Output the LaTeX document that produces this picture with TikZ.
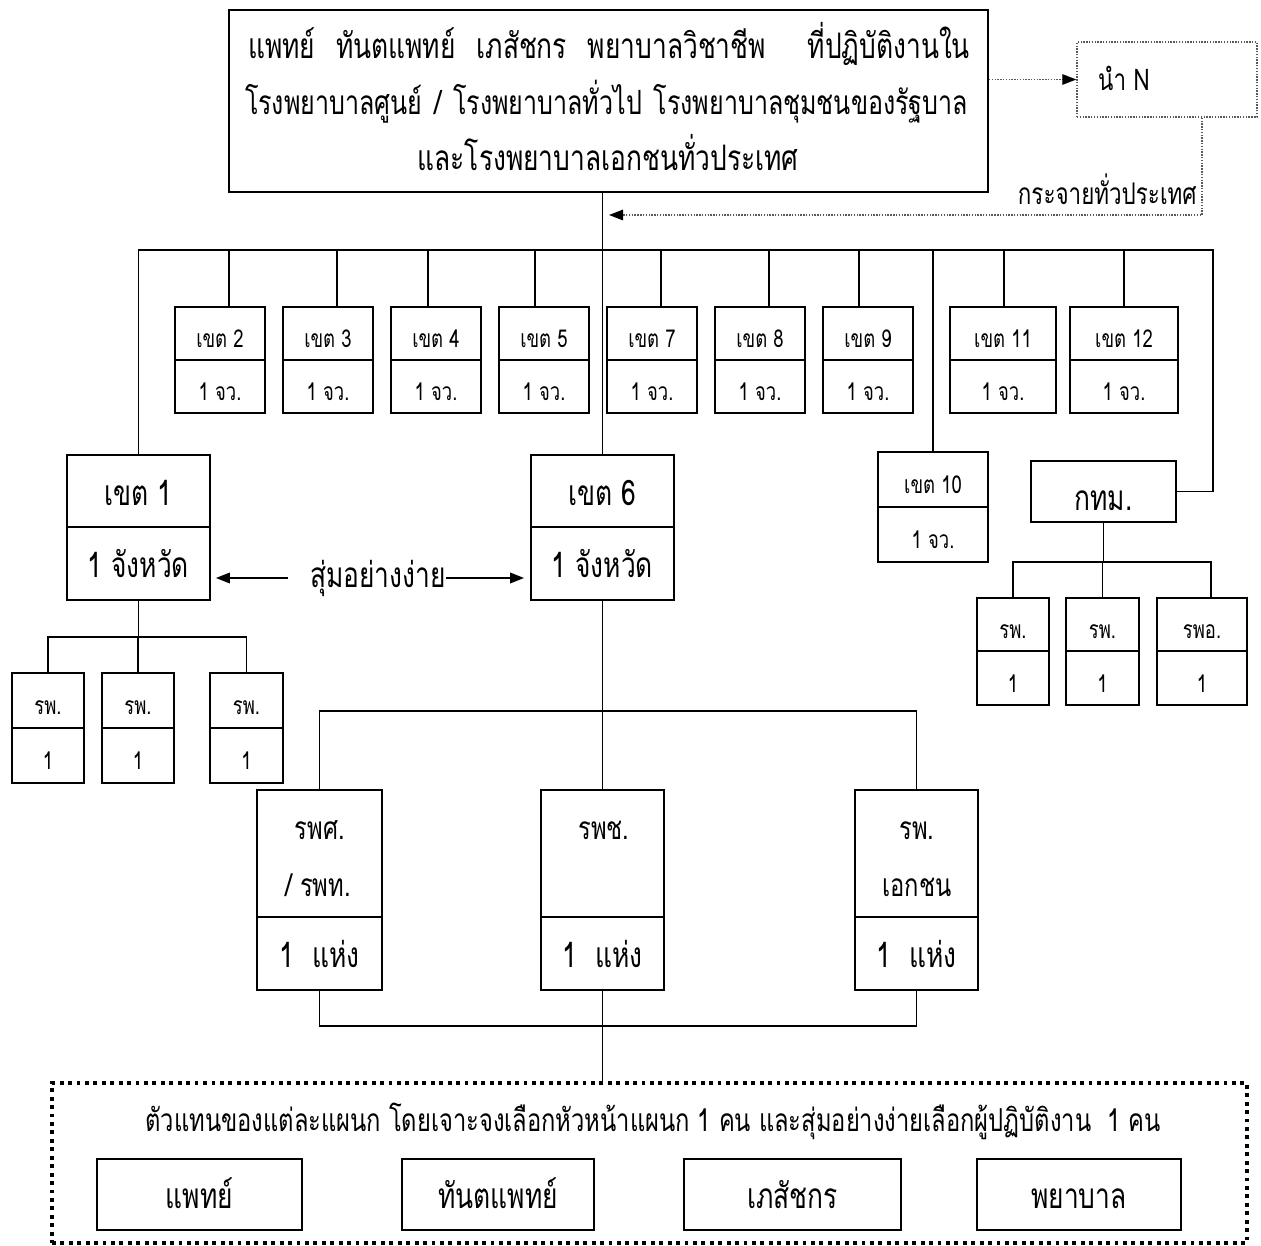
\documentclass[tikz,border=0pt]{standalone}
\usepackage{fontspec}
\setmainfont{Loma}[Script=Thai, FakeStretch=0.75]
\usetikzlibrary{arrows.meta, calc}
\newcommand\fsL{\fontsize{20}{24}\selectfont}
\newcommand\fsM{\fontsize{17}{20}\selectfont}
\newcommand\fsS{\fontsize{14}{17}\selectfont}
\newcommand\fsB{\fontsize{18}{21}\selectfont}
\begin{document}
\begin{tikzpicture}[x=0.02cm, y=-0.02cm,
  ln/.style={line width=1pt},
  cell/.style={draw, line width=1pt, inner sep=0pt},
  bx/.style 2 args={minimum width=#1*0.02cm, minimum height=#2*0.02cm},
  fL/.style={font=\fsL, inner sep=0pt, text height=10.4pt, text depth=0pt},
  fM/.style={font=\fsM, inner sep=0pt, text height=8.8pt, text depth=0pt},
  fB/.style={font=\fsB, inner sep=0pt, text height=9.3pt, text depth=0pt},
  cL/.style={font=\fsL, text height=16pt, text depth=0pt},
  cS/.style={font=\fsS, text height=16.4pt, text depth=0pt},
  tip/.style={-{Triangle[length=8pt,width=6pt,color=black]}},
  dotline/.style={draw=black!65, line width=0.8pt, dash pattern=on 0.8pt off 0.8pt},
  bigdot/.style={draw=black, line width=2.2pt, dash pattern=on 2.2pt off 2.6pt}]
\useasboundingbox (0,0) rectangle (1261,1246);

% top box
\node[draw, ln, bx={759}{182}] (top) at (608.5,101) {};
\node[fL] (l1) at (609,49) {\hbox to 14.44cm{แพทย์\hfill ทันตแพทย์\hfill เภสัชกร\hfill พยาบาลวิชาชีพ\hfill\hfill ที่ปฏิบัติงานใน}};
\node[fL, font=\fontsize{19}{23}\selectfont, text height=9.9pt] (l2) at (606.5,106) {\hbox to 14.46cm{โรงพยาบาลศูนย์\kern3pt\hfill/\kern3pt\hfill โรงพยาบาลทั่วไป\kern3pt\hfill โรงพยาบาลชุมชนของรัฐบาล}};
\node[fL] (l3) at (608,161) {และโรงพยาบาลเอกชนทั่วประเทศ};

% N box
\node[dotline, bx={180}{75}] (nbox) at (1167,79.5) {};
\node[fM] (ntext) at (1124,83) {นำ N};
\draw[dotline, tip] (top.east |- nbox.west) -- (nbox.west);
\coordinate (dc) at (1202,215);
\coordinate (da) at (609,215);
\draw[dotline, tip] (nbox.south -| dc) -- (dc) -- (da);
\node[fM, anchor=east] (spread) at (1197,197) {กระจายทั่วประเทศ};

% row of zones
\foreach \n/\x/\w/\t in {k2/220/90/2, k3/328/90/3, k4/436/90/4, k5/544/90/5, k7/652/90/7, k8/760/90/8, k9/868/90/9, k11/1003/106/11, k12/1124/108/12}{
  \node[cell, cS, bx={\w}{53}] (\n) at (\x,333.5) {เขต \t};
  \node[cell, cS, bx={\w}{53}] (\n b) at (\x,386.5) {1 จว.};
}
\coordinate (busR) at (1213,250);
\foreach \n/\o in {k2/9, k3/9, k4/-8, k5/-9, k7/9, k8/9, k9/-9, k11/1, k12/0}
  \draw[ln] ([xshift=\o*0.02cm]\n.north) coordinate (tmp) -- (tmp |- busR);

% zone 1 and 6
\node[cell, cL, bx={143}{72}] (k1) at (138.5,491) {เขต 1};
\node[cell, cL, bx={143}{73}] (k1b) at (138.5,563.5) {1 จังหวัด};
\node[cell, cL, bx={143}{72}] (k6) at (602.5,491) {เขต 6};
\node[cell, cL, bx={143}{73}] (k6b) at (602.5,563.5) {1 จังหวัด};

% zone 10 and Bangkok
\node[cell, cS, bx={110}{55}] (k10) at (933,479.5) {เขต 10};
\node[cell, cS, bx={110}{55}] (k10b) at (933,534.5) {1 จว.};
\node[cell, font=\fsL, text height=22pt, text depth=0pt, bx={145}{61}] (bkk) at (1103.5,491.5) {กทม.};

\draw[ln] (k1.north) |- (busR) |- (bkk.east);
\draw[ln] (top.south -| k6.north) -- (k6.north);
\draw[ln] (k10.north) -- (k10.north |- busR);

% random arrows
\node[fL] (rand) at (378,578) {สุ่มอย่างง่าย};
\draw[ln, tip, shorten >=5*0.02cm] ([xshift=-22*0.02cm]rand.west) -- (rand.west -| k1b.east);
\draw[ln, tip, shorten >=6*0.02cm] (rand.east) -- (rand.east -| k6b.west);

% hospitals under zone 1
\foreach \n/\x/\w in {h1/48/72, h2/138/72, h3/246.5/73}{
  \node[cell, cS, bx={\w}{55}] (\n) at (\x,700.5) {รพ.};
  \node[cell, cS, bx={\w}{55}] (\n b) at (\x,755.5) {1};
}
\coordinate (k1bus) at (138,637);
\draw[ln] (k1b.south) -- (k1b.south |- k1bus);
\draw[ln] (h1.north) |- (h3.north |- k1bus) -- (h3.north);
\draw[ln] (h2.north) -- (h2.north |- k1bus);

% hospitals under Bangkok
\foreach \n/\x/\w/\t in {b1/1013/72/รพ., b2/1102.5/73/รพ., b3/1202/90/รพอ.}{
  \node[cell, cS, bx={\w}{53}] (\n) at (\x,624.5) {\t};
  \node[cell, cS, bx={\w}{54}] (\n b) at (\x,678) {1};
}
\coordinate (bkkbus) at (1102,562);
\draw[ln] (bkk.south) -- (bkk.south |- bkkbus);
\draw[ln] (b1.north) |- (bkkbus);
\draw[ln] ([xshift=9*0.02cm]b3.north) coordinate (tmp) -- (tmp |- bkkbus) -- (bkkbus);
\draw[ln] (b2.north) -- (b2.north |- bkkbus);

% hospitals under zone 6
\node[cell, bx={125}{127}] (c1) at (319.5,853.5) {};
\node[cell, cL, bx={125}{73}] (c1b) at (319.5,953.5) {1\ \ แห่ง};
\node[cell, bx={123}{127}] (c2) at (602.5,853.5) {};
\node[cell, cL, bx={123}{73}] (c2b) at (602.5,953.5) {1\ \ แห่ง};
\node[cell, bx={123}{127}] (c3) at (916.5,853.5) {};
\node[cell, cL, bx={123}{73}] (c3b) at (916.5,953.5) {1\ \ แห่ง};
\node[fB] (c1x) at (320,831) {รพศ.};
\node[fB] (c1y) at (318,888) {/ รพท.};
\node[fB] (c2x) at (604,831) {รพช.};
\node[fB] (c3x) at (917,831) {รพ.};
\node[fB] (c3y) at (917,888) {เอกชน};
\coordinate (k6bus) at (602,711);
\draw[ln] (k6b.south) -- (k6b.south |- k6bus);
\draw[ln] (c1.north) |- (c3.north |- k6bus) -- (c3.north);
\draw[ln] (c2.north) -- (c2.north |- k6bus);
\coordinate (lowbus) at (602,1026);
\draw[ln] (c1b.south) |- (c3b.south |- lowbus) -- (c3b.south);

% bottom box
\node[bigdot, bx={1195}{160}] (bottom) at (649.5,1163) {};
\draw[ln] (c2b.south) -- (c2b.south |- bottom.north);
\node[fB] (bline) at (653,1123) {ตัวแทนของแต่ละแผนก โดยเจาะจงเลือกหัวหน้าแผนก 1 คน และสุ่มอย่างง่ายเลือกผู้ปฏิบัติงาน\ \ 1 คน};
\foreach \n/\x/\w/\t in {d1/199.5/205/แพทย์, d2/498/192/ทันตแพทย์, d3/792.5/217/เภสัชกร, d4/1079/204/พยาบาล}
  \node[cell, cL, bx={\w}{71}] (\n) at (\x,1194.5) {\t};
\end{tikzpicture}
\end{document}
